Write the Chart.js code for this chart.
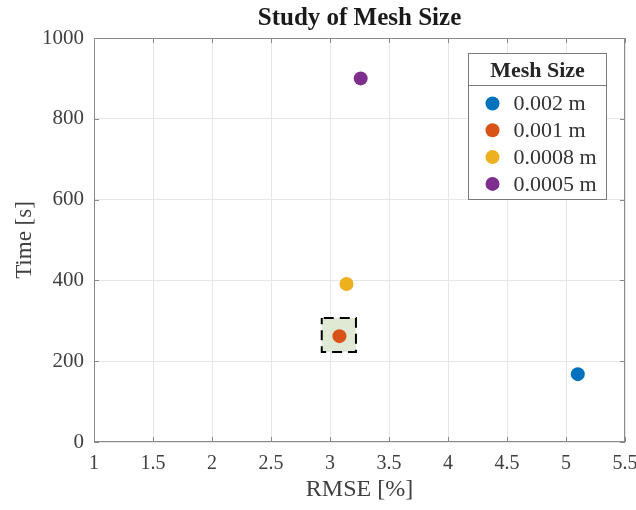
<!DOCTYPE html>
<html>
<head>
<meta charset="utf-8">
<script src="https://cdn.jsdelivr.net/npm/chart.js@4.4.1/dist/chart.umd.min.js"></script>
<style>
  html, body { margin: 0; padding: 0; background: #fff; }
  #wrap { width: 636px; height: 510px; }
</style>
</head>
<body>
<div id="wrap"><canvas id="c" width="636" height="510"></canvas></div>
<script>
// Mesh sizes and the error / run time measured for each
const meshLabels = ['0.002 m', '0.001 m', '0.0008 m', '0.0005 m'];
const rmseValues = [5.10, 3.08, 3.14, 3.26];
const timeValues = [168, 262, 391, 900];
const meshColors = ['#0072BD', '#D95319', '#EDB120', '#7E2F8E'];

// Axis ticks
const xTicks = [1, 1.5, 2, 2.5, 3, 3.5, 4, 4.5, 5, 5.5];
const yTicks = [0, 200, 400, 600, 800, 1000];

// Selected mesh highlight, in data units: [xMin, xMax, yMin, yMax]
const highlightBox = [2.93, 3.22, 223, 307];

const serif = '"Liberation Serif", "Times New Roman", serif';

const datasets = meshLabels.map((label, i) => ({
  label: label,
  data: [{ x: rmseValues[i], y: timeValues[i] }],
  backgroundColor: meshColors[i],
  borderColor: meshColors[i],
  pointRadius: 7,
  pointHoverRadius: 7,
  borderWidth: 0
}));

// Shaded dashed box behind the selected mesh point
const highlightPlugin = {
  id: 'highlight',
  beforeDatasetsDraw(chart) {
    const { ctx, scales: { x, y } } = chart;
    const x0 = x.getPixelForValue(highlightBox[0]);
    const x1 = x.getPixelForValue(highlightBox[1]);
    const y0 = y.getPixelForValue(highlightBox[3]);
    const y1 = y.getPixelForValue(highlightBox[2]);
    ctx.save();
    ctx.fillStyle = '#e0e9d3';
    ctx.fillRect(x0, y0, x1 - x0, y1 - y0);
    ctx.strokeStyle = '#000';
    ctx.lineWidth = 2;
    ctx.setLineDash([10, 6]);
    ctx.lineDashOffset = -2;
    ctx.strokeRect(x0, y0, x1 - x0, y1 - y0);
    ctx.restore();
  }
};

// Box around the axes with inward tick marks on every side, plus the legend
const frameAndLegendPlugin = {
  id: 'frameAndLegend',
  afterDraw(chart) {
    const { ctx, chartArea: a, scales: { x, y } } = chart;
    ctx.save();
    ctx.strokeStyle = '#8a8a8a';
    ctx.lineWidth = 1;
    ctx.strokeRect(a.left + 0.5, a.top + 0.5, a.right - a.left - 1, a.bottom - a.top - 1);
    const tl = 5;
    ctx.beginPath();
    xTicks.forEach(v => {
      const px = Math.round(x.getPixelForValue(v)) + 0.5;
      ctx.moveTo(px, a.bottom); ctx.lineTo(px, a.bottom - tl);
      ctx.moveTo(px, a.top); ctx.lineTo(px, a.top + tl);
    });
    yTicks.forEach(v => {
      const py = Math.round(y.getPixelForValue(v)) + 0.5;
      ctx.moveTo(a.left, py); ctx.lineTo(a.left + tl, py);
      ctx.moveTo(a.right, py); ctx.lineTo(a.right - tl, py);
    });
    ctx.stroke();

    // Legend box with a titled header
    const bw = 138, bh = 146;
    const bx = a.right - 19 - bw + 0.5;
    const by = a.top + 15 + 0.5;
    ctx.fillStyle = '#fff';
    ctx.fillRect(bx, by, bw, bh);
    ctx.strokeStyle = '#7a7a7a';
    ctx.strokeRect(bx, by, bw, bh);
    ctx.beginPath();
    ctx.moveTo(bx, by + 32);
    ctx.lineTo(bx + bw, by + 32);
    ctx.stroke();
    ctx.fillStyle = '#262626';
    ctx.font = 'bold 22px ' + serif;
    ctx.textAlign = 'center';
    ctx.textBaseline = 'middle';
    ctx.fillText('Mesh Size', bx + bw / 2, by + 18);
    ctx.font = '22px ' + serif;
    ctx.textAlign = 'left';
    chart.data.datasets.forEach((ds, i) => {
      const cy = by + 50 + i * 26.8;
      ctx.fillStyle = ds.backgroundColor;
      ctx.beginPath();
      ctx.arc(bx + 24, cy, 7, 0, Math.PI * 2);
      ctx.fill();
      ctx.fillStyle = '#333';
      ctx.fillText(ds.label, bx + 45, cy + 1);
    });
    ctx.restore();
  }
};

new Chart(document.getElementById('c'), {
  type: 'scatter',
  data: { datasets: datasets },
  options: {
    responsive: false,
    animation: false,
    layout: { padding: { left: 0, right: 0, top: 0, bottom: 0 } },
    plugins: {
      legend: { display: false },
      tooltip: { enabled: false },
      title: {
        display: true,
        fullSize: false,
        text: 'Study of Mesh Size',
        color: '#1a1a1a',
        font: { family: serif, size: 25, weight: 'bold', lineHeight: 1.2 },
        padding: { top: 4, bottom: 4 }
      }
    },
    scales: {
      x: {
        type: 'linear',
        min: 1,
        max: 5.5,
        afterBuildTicks(scale) { scale.ticks = xTicks.map(v => ({ value: v })); },
        afterFit(scale) {
          scale.height = 68;
          scale.paddingRight = 11;
          scale.paddingLeft = 0;
        },
        ticks: {
          color: '#404040',
          padding: 10,
          font: { family: serif, size: 20 },
          callback: v => String(v)
        },
        grid: { color: '#e6e6e6', drawTicks: false },
        border: { display: false },
        title: {
          display: true,
          text: 'RMSE [%]',
          color: '#404040',
          font: { family: serif, size: 24 },
          padding: { top: 0, bottom: 6 }
        }
      },
      y: {
        type: 'linear',
        min: 0,
        max: 1000,
        afterBuildTicks(scale) { scale.ticks = yTicks.map(v => ({ value: v })); },
        afterFit(scale) { scale.width = 94; },
        ticks: {
          color: '#404040',
          padding: 10,
          font: { family: serif, size: 21 },
          callback: v => String(v)
        },
        grid: { color: '#e6e6e6', drawTicks: false },
        border: { display: false },
        title: {
          display: true,
          text: 'Time [s]',
          color: '#404040',
          font: { family: serif, size: 23 },
          padding: { top: 11, bottom: 0 }
        }
      }
    }
  },
  plugins: [highlightPlugin, frameAndLegendPlugin]
});
</script>
</body>
</html>
